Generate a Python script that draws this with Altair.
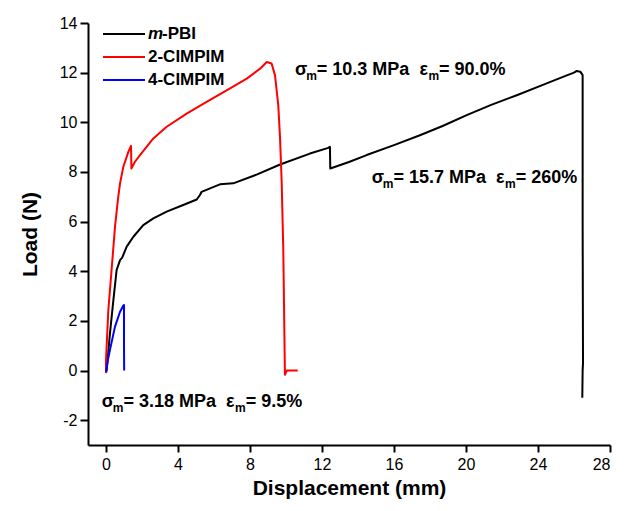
import altair as alt
import pandas as pd

# ---------------- data ----------------
series_names = ["m-PBI", "2-CIMPIM", "4-CIMPIM"]
series_colors = ["#000000", "#ff0000", "#0000ff"]

pbi_x = [0, 0.04, 0.22, 0.41, 0.59, 0.78, 0.9, 1.15, 1.52, 2.07, 2.63, 3.37, 4.29, 5.04, 5.22,
         5.31, 5.78, 6.33, 7.07, 8.4, 9.67, 11.33, 12.35, 12.44, 12.46, 13.5, 14.48, 16.0, 17.44,
         18.7, 20.04, 21.4, 22.82, 24.2, 25.6, 26.0, 26.15, 26.35, 26.48, 26.48, 26.5, 26.48, 26.46]
pbi_y = [-0.1, 0.03, 1.5, 2.84, 4.05, 4.45, 4.55, 4.99, 5.39, 5.86, 6.13, 6.4, 6.67, 6.89, 7.07,
         7.2, 7.34, 7.5, 7.54, 7.9, 8.3, 8.74, 8.97, 9.01, 8.14, 8.4, 8.68, 9.08, 9.48,
         9.85, 10.29, 10.7, 11.09, 11.49, 11.89, 12.0, 12.07, 12.04, 11.9, 6.0, 0.3, 0.0, -1.1]

cl2_x = [0, 0.0, 0.13, 0.31, 0.5, 0.68, 0.78, 0.96, 1.24, 1.39, 1.41, 1.6, 1.89, 2.63, 3.37,
         4.48, 5.59, 6.7, 7.82, 8.56, 8.93, 9.2, 9.39, 9.57, 9.67, 9.76, 9.85, 9.94, 10.04, 10.65]
cl2_y = [-0.1, 0.43, 2.44, 4.05, 5.79, 7.0, 7.54, 8.2, 8.81, 9.05, 8.14, 8.4, 8.68, 9.35, 9.82,
         10.35, 10.82, 11.29, 11.76, 12.16, 12.43, 12.37, 11.89, 10.69, 9.35, 7.6, 4.86, -0.17, 0.0, 0.0]

cl4_x = [0, 0.1, 0.22, 0.5, 0.78, 0.95, 1.0, 1.0, 1.01]
cl4_y = [-0.05, 0.4, 0.83, 1.77, 2.37, 2.6, 2.64, 1.0, 0.0]

x_ticks = list(range(0, 29, 2))
y_ticks = list(range(-2, 15, 1))

annotations = [
    # (x, y, sigma, epsilon)
    (10.5, 11.92, "10.3", "90.0"),
    (14.76, 7.56, "15.7", "260"),
    (-0.24, -1.47, "3.18", "9.5"),
]

# ---------------- build table ----------------
rows = []
for name, xs, ys in [(series_names[0], pbi_x, pbi_y),
                     (series_names[1], cl2_x, cl2_y),
                     (series_names[2], cl4_x, cl4_y)]:
    for i, (xv, yv) in enumerate(zip(xs, ys)):
        rows.append({"series": name, "x": xv, "y": yv, "idx": i})
df = pd.DataFrame(rows)

FONT = "Liberation Sans"
xscale = alt.Scale(domain=[-1, 28], nice=False, zero=False)
yscale = alt.Scale(domain=[-3, 14], nice=False, zero=False)

xaxis = alt.Axis(
    values=x_ticks,
    labelExpr="datum.value % 4 === 0 ? '' + datum.value : ''",
    tickSize={"condition": {"test": "datum.value % 4 === 0", "value": 7}, "value": 4},
    grid=False, domainColor="black", domainWidth=2, tickColor="black", tickWidth=2,
    labelFont=FONT, labelFontSize=16, labelColor="black", labelPadding=4,
    title="Displacement (mm)", titleFont=FONT, titleFontSize=21, titleFontWeight="bold",
    titleColor="black", titleY=43, titleBaseline="middle",
)
yaxis = alt.Axis(
    values=y_ticks,
    labelExpr="datum.value % 2 === 0 ? '' + datum.value : ''",
    tickSize={"condition": {"test": "datum.value % 2 === 0", "value": 8}, "value": 4},
    grid=False, domainColor="black", domainWidth=2, tickColor="black", tickWidth=2,
    labelFont=FONT, labelFontSize=16, labelColor="black", labelPadding=3,
    title="Load (N)", titleFont=FONT, titleFontSize=21, titleFontWeight="bold",
    titleColor="black", titleX=-58, titleBaseline="middle",
)

lines = alt.Chart(df).mark_line(strokeWidth=2, clip=False, strokeJoin="round").encode(
    x=alt.X("x:Q", scale=xscale, axis=xaxis),
    y=alt.Y("y:Q", scale=yscale, axis=yaxis),
    color=alt.Color("series:N", scale=alt.Scale(domain=series_names, range=series_colors), legend=None),
    order="idx:Q",
)

layers = [lines]

# ---------------- custom legend (pixel layout) ----------------
one = pd.DataFrame({"a": [0]})
for i, (name, col) in enumerate(zip(series_names, series_colors)):
    ypix = 11 + 23 * i
    layers.append(alt.Chart(one).mark_rule(color=col, strokeWidth=2).encode(
        x=alt.value(15), x2=alt.value(57), y=alt.value(ypix)))
    if i == 0:
        layers.append(alt.Chart(one).mark_text(align="left", baseline="middle", font=FONT,
                      fontSize=17, fontWeight="bold", fontStyle="italic", color="black").encode(
            x=alt.value(60), y=alt.value(ypix), text=alt.value("m")))
        layers.append(alt.Chart(one).mark_text(align="left", baseline="middle", font=FONT,
                      fontSize=17, fontWeight="bold", color="black").encode(
            x=alt.value(74), y=alt.value(ypix), text=alt.value("-PBI")))
    else:
        layers.append(alt.Chart(one).mark_text(align="left", baseline="middle", font=FONT,
                      fontSize=17, fontWeight="bold", color="black").encode(
            x=alt.value(60), y=alt.value(ypix), text=alt.value(name)))

# ---------------- annotations with subscripts ----------------
NB = "\u00a0"
WID = {"σ": 0.62, "ε": 0.50, "m": 0.889, "=": 0.584, " ": 0.278, NB: 0.278, ".": 0.278,
       "%": 0.889, "M": 0.833, "P": 0.667, "a": 0.556}
def tw(s, size):
    return sum(WID.get(c, 0.556) for c in s) * size

MAIN, SUB = 18, 12
for ax_, ay_, sig, eps in annotations:
    pieces = [("σ", MAIN, 0), ("m", SUB, 5), ("=" + NB + sig + NB + "MPa" + NB + NB + "ε", MAIN, 0),
              ("m", SUB, 5), ("=" + NB + eps + "%", MAIN, 0)]
    off = 0.0
    for txt, size, dy in pieces:
        layers.append(alt.Chart(one).mark_text(align="left", baseline="alphabetic", font=FONT,
                      fontSize=size, fontWeight="bold", color="black", dx=off, dy=dy).encode(
            x=alt.datum(ax_), y=alt.datum(ay_), text=alt.value(txt)))
        off += tw(txt, size)

chart = alt.layer(*layers).properties(
    width=522, height=422,
    autosize=alt.AutoSizeParams(type="none"),
    padding={"left": 80, "top": 15, "right": 4, "bottom": 58},
    background="white",
).configure_view(stroke=None)

chart.save("out.html", embed_options={"renderer": "svg", "actions": False})
